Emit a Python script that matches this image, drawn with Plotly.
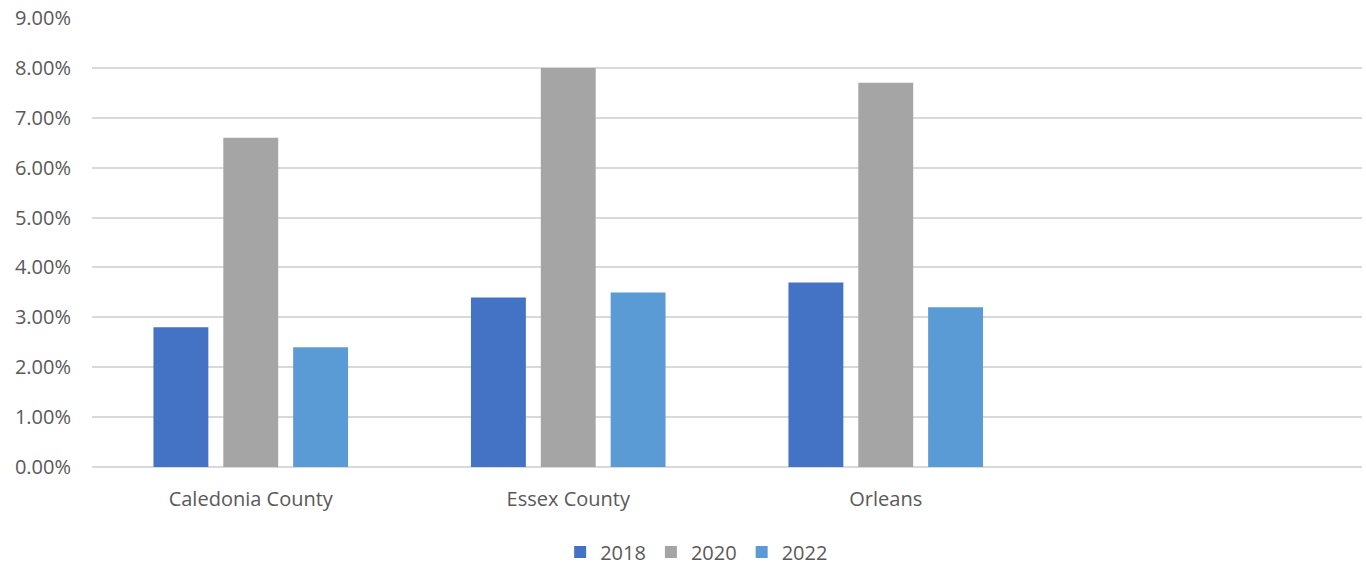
import plotly.graph_objects as go

categories = ["Caledonia County", "Essex County", "Orleans"]
years = ["2018", "2020", "2022"]
values_2018 = [0.028, 0.034, 0.037]
values_2020 = [0.066, 0.080, 0.077]
values_2022 = [0.024, 0.035, 0.032]
colors = ["#4472C4", "#A5A5A5", "#5B9BD5"]

fig = go.Figure()
for name, vals, col in zip(years, [values_2018, values_2020, values_2022], colors):
    fig.add_trace(go.Bar(x=categories, y=vals, name=name, marker_color=col,
                         marker_line_width=0))

font = dict(family="Open Sans, Liberation Sans, sans-serif", size=20, color="#595959")
fig.update_layout(
    width=1366, height=565,
    margin=dict(l=92, r=4, t=18, b=98, autoexpand=False),
    paper_bgcolor="white", plot_bgcolor="white",
    barmode="group", bargap=0.34, bargroupgap=0.214,
    font=font,
    legend=dict(orientation="h", x=0.51, xanchor="center", xref="container",
                y=13 / 565, yanchor="middle", yref="container",
                font=font, itemwidth=30),
    xaxis=dict(range=[-0.5, 3.5], showgrid=False, showline=False, ticks="",
               tickfont=font, ticklabelstandoff=18, automargin=False),
    yaxis=dict(range=[0, 0.09], dtick=0.01, tickformat=".2%", showgrid=True,
               gridcolor="#D9D9D9", gridwidth=1.5, zeroline=True,
               zerolinecolor="#D9D9D9", zerolinewidth=1.5, showline=False,
               ticks="", tickfont=font, ticklabelstandoff=20, automargin=False),
)
fig.write_html("out.html")
